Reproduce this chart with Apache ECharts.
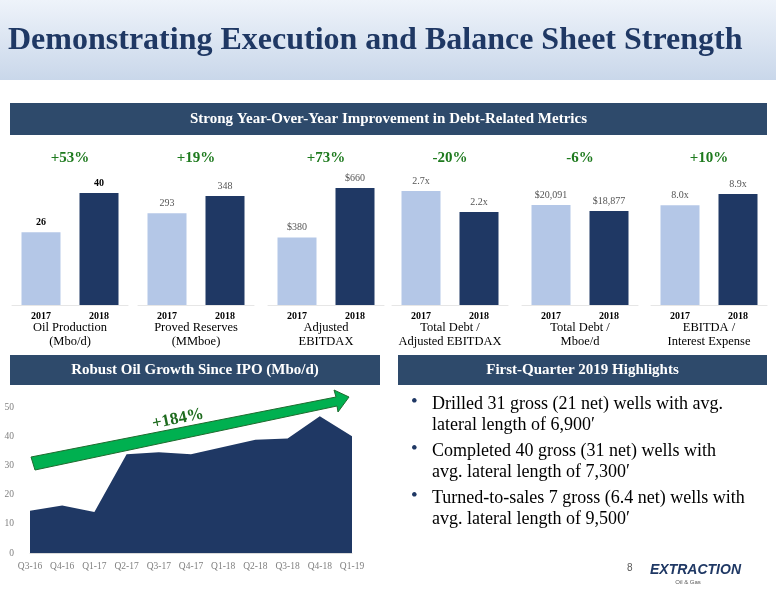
<!DOCTYPE html>
<html>
<head>
<meta charset="UTF-8">
<script src="https://cdn.jsdelivr.net/npm/echarts@6/dist/echarts.min.js"></script>
<style>
html, body { margin: 0; padding: 0; background: #fff; }
#main { width: 776px; height: 600px; }
</style>
</head>
<body>
<div id="main"></div>
<script>
// mini bar charts: 2017 vs 2018
var years = ['2017', '2018'];
var metricNames = ['Oil Production\n(Mbo/d)', 'Proved Reserves\n(MMboe)', 'Adjusted\nEBITDAX',
	'Total Debt /\nAdjusted EBITDAX', 'Total Debt /\nMboe/d', 'EBITDA /\nInterest Expense'];
var changes = ['+53%', '+19%', '+73%', '-20%', '-6%', '+10%'];
var oilProd = [26, 40];
var reserves = [293, 348];
var ebitdax = [380, 660];
var debtEbitdax = [2.7, 2.2];
var debtMboe = [20091, 18877];
var ebitdaInterest = [8.0, 8.9];
var metricValues = [oilProd, reserves, ebitdax, debtEbitdax, debtMboe, ebitdaInterest];
var labelFmt = [
	function (v) { return v; },
	function (v) { return v; },
	function (v) { return '$' + v; },
	function (v) { return v.toFixed(1) + 'x'; },
	function (v) { return '$' + v.toLocaleString('en-US'); },
	function (v) { return v.toFixed(1) + 'x'; }
];

// oil growth since IPO
var quarters = ['Q3-16', 'Q4-16', 'Q1-17', 'Q2-17', 'Q3-17', 'Q4-17', 'Q1-18', 'Q2-18', 'Q3-18', 'Q4-18', 'Q1-19'];
var oilGrowth = [14.5, 16.3, 14.0, 33.8, 34.5, 33.8, 36.3, 38.8, 39.2, 46.8, 40.0];

var bullets = [
	'Drilled 31 gross (21 net) wells with avg.\nlateral length of 6,900\u2032',
	'Completed 40 gross (31 net) wells with\navg. lateral length of 7,300\u2032',
	'Turned-to-sales 7 gross (6.4 net) wells with\navg. lateral length of 9,500\u2032'
];

var NAVY = '#1f3864', LIGHT = '#b4c7e7', BANNER = '#2e4a6b', GREEN = '#1e7a1e';
var SERIF = '"Liberation Serif", "DejaVu Serif", serif';
var axisMax = [55.4, 495, 874, 3.67, 31141, 12.43];
var groupLeft = [12, 138, 268, 392, 522, 651];

var myChart = echarts.init(document.getElementById('main'));
var grids = [], xAxes = [], yAxes = [], series = [], graphics = [];

// header band
graphics.push({ type: 'rect', shape: { x: 0, y: 0, width: 776, height: 80 },
	style: { fill: new echarts.graphic.LinearGradient(0, 0, 0, 1, [
		{ offset: 0, color: '#eef3fa' }, { offset: 1, color: '#c9d7ea' }]) }, z: 0 });
graphics.push({ type: 'text', left: 8, top: 25, style: { text: 'Demonstrating Execution and Balance Sheet Strength',
	font: 'bold 32px ' + SERIF, fill: NAVY }, z: 5 });

function banner(x, y, w, h, txt) {
	graphics.push({ type: 'rect', shape: { x: x, y: y, width: w, height: h }, style: { fill: BANNER }, z: 1 });
	graphics.push({ type: 'text', x: x + w / 2, y: y + h / 2, style: { text: txt, font: 'bold 15px ' + SERIF,
		fill: '#fff', align: 'center', verticalAlign: 'middle' }, z: 2 });
}
banner(10, 103, 757, 32, 'Strong Year-Over-Year Improvement in Debt-Related Metrics');
banner(10, 355, 370, 30, 'Robust Oil Growth Since IPO (Mbo/d)');
banner(398, 355, 369, 30, 'First-Quarter 2019 Highlights');

metricValues.forEach(function (vals, i) {
	grids.push({ left: groupLeft[i], width: 116, top: 150, height: 155 });
	xAxes.push({ type: 'category', gridIndex: i, data: years, axisTick: { show: false },
		axisLine: { lineStyle: { color: '#e6e6e6' } },
		axisLabel: { color: '#000', fontFamily: SERIF, fontWeight: 'bold', fontSize: 10, margin: 6 } });
	yAxes.push({ type: 'value', gridIndex: i, min: 0, max: axisMax[i], show: false, splitLine: { show: false } });
	series.push({ type: 'bar', xAxisIndex: i, yAxisIndex: i, barWidth: 39,
		data: vals.map(function (v, j) { return { value: v, itemStyle: { color: j === 0 ? LIGHT : NAVY } }; }),
		label: { show: true, position: 'top', distance: 5, formatter: function (p) { return labelFmt[i](p.value); },
			color: i === 0 ? '#000' : '#555', fontFamily: SERIF, fontSize: 10, fontWeight: i === 0 ? 'bold' : 'normal' } });
	graphics.push({ type: 'text', x: groupLeft[i] + 58, y: 158, style: { text: changes[i], font: 'bold 15px ' + SERIF,
		fill: GREEN, align: 'center', verticalAlign: 'middle' }, z: 3 });
	graphics.push({ type: 'text', x: groupLeft[i] + 58, y: 321, style: { text: metricNames[i], font: '12.5px ' + SERIF,
		fill: '#000', align: 'center', verticalAlign: 'top', lineHeight: 14 }, z: 3 });
});

// area chart
var gi = metricValues.length;
grids.push({ left: 30, width: 322, top: 407, height: 146 });
xAxes.push({ type: 'category', gridIndex: gi, data: quarters, boundaryGap: false, axisTick: { show: false },
	axisLine: { lineStyle: { color: '#d9d9d9' } },
	axisLabel: { color: '#7f7f7f', fontFamily: SERIF, fontSize: 9.5, margin: 8 } });
yAxes.push({ type: 'value', gridIndex: gi, min: 0, max: 50, interval: 10, splitLine: { show: false },
	axisLabel: { color: '#7f7f7f', fontFamily: SERIF, fontSize: 9.5, margin: 16 } });
series.push({ type: 'line', xAxisIndex: gi, yAxisIndex: gi, data: oilGrowth, symbol: 'none',
	lineStyle: { width: 0 }, areaStyle: { color: NAVY, opacity: 1 } });

// growth arrow
graphics.push({ type: 'polygon', shape: { points: [[31, 457], [336, 397], [334, 390], [349, 397], [338, 412], [337, 406], [35, 470]] },
	style: { fill: '#00b050', stroke: '#1e6b2e', lineWidth: 1 }, z: 10 });
graphics.push({ type: 'text', x: 178, y: 419, rotation: 0.2, style: { text: '+184%', font: 'bold 17px ' + SERIF,
	fill: '#1e6b1e', align: 'center', verticalAlign: 'middle' }, z: 11 });

// bullets
bullets.forEach(function (b, i) {
	graphics.push({ type: 'text', x: 411, y: 393 + i * 47, style: { text: '\u2022', font: '19px ' + SERIF, fill: NAVY }, z: 3 });
	graphics.push({ type: 'text', x: 432, y: 394 + i * 47, style: { text: b, font: '18px ' + SERIF, fill: '#000',
		lineHeight: 21 }, z: 3 });
});

// footer
graphics.push({ type: 'text', x: 627, y: 563, style: { text: '8', font: '10px sans-serif', fill: '#595959' }, z: 3 });
graphics.push({ type: 'text', x: 650, y: 563, style: { text: 'EXTRACTION', font: 'bold italic 14px "Liberation Sans", sans-serif', fill: NAVY }, z: 3 });
graphics.push({ type: 'text', x: 688, y: 579, style: { text: 'Oil & Gas', font: '6px sans-serif', fill: '#595959', align: 'center' }, z: 3 });

myChart.setOption({
	animation: false,
	grid: grids,
	xAxis: xAxes,
	yAxis: yAxes,
	series: series,
	graphic: graphics
});
</script>
</body>
</html>
